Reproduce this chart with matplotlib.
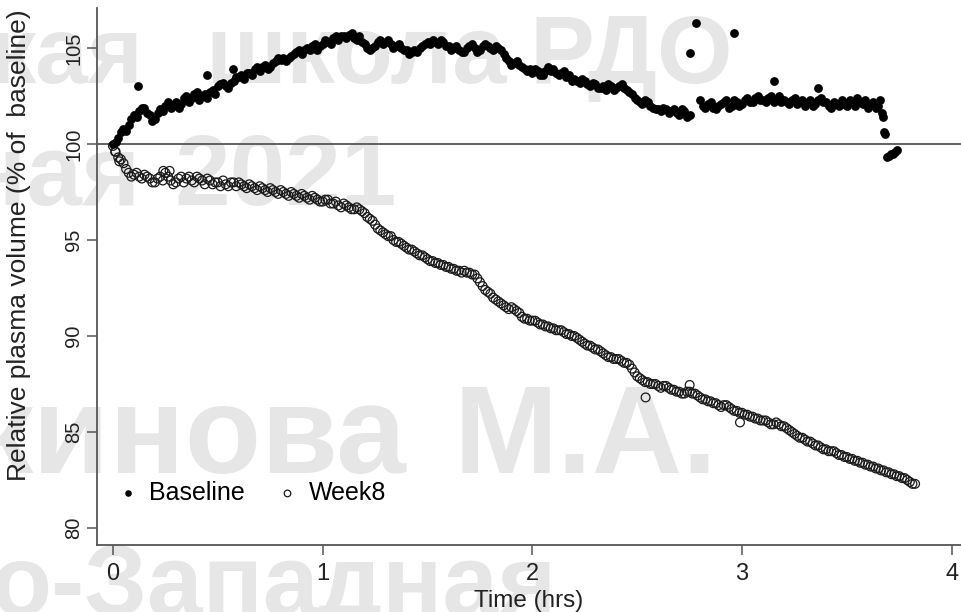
import numpy as np
import matplotlib.pyplot as plt

plt.rcParams['font.family'] = ['Liberation Sans', 'DejaVu Sans']

# readings every 1.5 min (0.025 h) plus the readings in between, % of baseline
step = 0.025

baseline = [
    100.0, 100.3, 100.8, 101.0, 101.5, 101.7, 101.9, 101.5,
    101.3, 101.8, 102.0, 101.9, 102.2, 102.1, 102.5, 102.4,
    102.7, 102.5, 102.4, 102.8, 103.0, 103.2, 102.9, 103.3,
    103.5, 103.4, 103.7, 103.9, 103.8, 104.1, 104.0, 104.3,
    104.4, 104.3, 104.6, 104.8, 104.7, 105.0, 105.1, 104.9,
    105.2, 105.3, 105.5, 105.4, 105.6, 105.7, 105.5, 105.6,
    105.2, 104.9, 105.1, 105.4, 105.3, 105.2, 105.1, 105.0,
    104.9, 104.8, 104.8, 105.1, 105.3, 105.4, 105.2, 105.3,
    105.1, 105.0, 104.9, 104.8, 105.1, 105.0, 104.9, 105.2,
    105.0, 105.1, 104.9, 104.5, 104.1, 104.3, 104.0, 103.8,
    103.7, 103.8, 103.6, 104.0, 103.9, 103.6, 103.8, 103.6,
    103.4, 103.2, 103.3, 103.0, 103.1, 102.9, 102.8, 103.0,
    102.9, 103.1, 102.8, 102.6, 102.3, 102.1, 102.2, 101.9,
    101.8, 101.9, 101.6, 101.8, 101.5, 101.7, 101.5, np.nan,
    102.3, 101.9, 102.2, 101.8, 102.1, 102.3, 102.0, 102.2,
    102.1, 102.4, 102.2, 102.5, 102.3, 102.4, 102.2, 102.5,
    102.3, 102.1, 102.4, 102.2, 102.0, 102.3, 102.1, 102.4,
    102.2, 101.9, 102.1, 102.3, 102.0, 102.2, 102.4, 102.1,
    101.9, 102.2, 102.0,
]
baseline_mid = [
    100.1, 100.6, 100.7, 101.3, 101.4, 101.9, 101.6, 101.2,
    101.6, 101.7, 102.2, 102.0, 101.9, 102.4, 102.2, 102.6,
    102.3, 102.6, 102.7, 102.6, 103.1, 103.0, 103.2, 103.5,
    103.6, 103.7, 103.6, 104.0, 104.0, 103.9, 104.2, 104.5,
    104.5, 104.5, 104.7, 104.9, 104.9, 104.9, 105.2, 105.1,
    105.4, 105.2, 105.6, 105.6, 105.5, 105.8, 105.4, 105.3,
    105.0, 105.0, 105.3, 105.2, 105.4, 105.0, 105.2, 104.9,
    104.7, 104.9, 105.0, 105.2, 105.2, 105.3, 105.4, 105.1,
    104.9, 105.1, 104.8, 105.0, 105.2, 104.8, 105.1, 105.1,
    104.9, 105.0, 104.7, 104.3, 104.2, 104.1, 103.9, 103.9,
    103.9, 103.6, 103.8, 103.8, 103.7, 103.7, 103.5, 103.3,
    103.3, 103.4, 103.1, 103.2, 102.9, 103.0, 103.1, 102.8,
    103.0, 102.9, 102.7, 102.4, 102.2, 102.3, 102.0, 101.8,
    101.7, 101.8, 101.7, 101.6, 101.8, 101.4, np.nan, np.nan,
    102.0, 102.1, 101.9, 102.0, 102.2, 101.9, 102.3, 102.0,
    102.3, 102.2, 102.4, 102.3, 102.2, 102.5, 102.3, 102.2,
    102.2, 102.3, 102.1, 102.3, 102.2, 102.0, 102.3, 102.2,
    102.0, 102.2, 102.0, 102.1, 102.3, 102.0, 102.2, 102.3,
    102.1, 101.9,
]
baseline_tail_t = [3.66, 3.665, 3.67, 3.675, 3.68, 3.69, 3.70, 3.71, 3.72, 3.73, 3.74]
baseline_tail = [102.3, 101.6, 101.4, 100.6, 100.5, 99.3, 99.4, 99.5, 99.5, 99.6, 99.7]
baseline_out_t = [0.12, 0.45, 0.57, 2.75, 2.78, 2.96, 3.15, 3.36]
baseline_out = [103.0, 103.6, 103.9, 104.75, 106.3, 105.8, 103.3, 102.9]

week8 = [
    99.9, 99.3, 99.0, 98.5, 98.4, 98.3, 98.4, 98.2,
    98.0, 98.3, 98.5, 98.1, 98.0, 98.3, 98.2, 98.1,
    98.3, 98.1, 98.2, 97.9, 98.0, 98.1, 97.8, 98.0,
    98.0, 97.8, 97.9, 97.7, 97.8, 97.6, 97.7, 97.5,
    97.6, 97.4, 97.5, 97.3, 97.4, 97.2, 97.3, 97.1,
    97.0, 97.1, 96.9, 96.8, 96.9, 96.7, 96.6, 96.6,
    96.4, 96.1, 95.8, 95.5, 95.3, 95.2, 94.9, 94.8,
    94.6, 94.5, 94.3, 94.2, 94.0, 93.9, 93.8, 93.7,
    93.6, 93.5, 93.4, 93.4, 93.3, 93.2, 92.8, 92.4,
    92.2, 91.9, 91.7, 91.5, 91.5, 91.3, 91.0, 90.9,
    90.8, 90.7, 90.6, 90.5, 90.4, 90.3, 90.2, 90.1,
    90.0, 89.8, 89.6, 89.5, 89.3, 89.2, 89.0, 88.9,
    88.8, 88.7, 88.6, 88.3, 87.9, 87.7, 87.6, 87.5,
    87.4, 87.4, 87.3, 87.2, 87.1, 87.0, 87.1, 87.0,
    86.8, 86.7, 86.6, 86.5, 86.3, 86.4, 86.2, 86.1,
    86.0, 85.9, 85.8, 85.7, 85.6, 85.5, 85.4, 85.4,
    85.3, 85.1, 84.9, 84.7, 84.6, 84.5, 84.3, 84.2,
    84.1, 84.0, 83.9, 83.8, 83.7, 83.6, 83.5, 83.4,
    83.3, 83.2, 83.1, 83.0, 82.9, 82.8, 82.7, 82.6,
    82.4, 82.3,
]
week8_mid = [
    99.6, 99.2, 98.7, 98.3, 98.5, 98.2, 98.3, 98.0,
    98.2, 98.1, 98.3, 97.9, 98.2, 98.0, 98.3, 98.0,
    98.2, 97.9, 98.1, 98.0, 97.8, 97.9, 98.0, 97.8,
    97.9, 97.7, 97.8, 97.6, 97.7, 97.5, 97.6, 97.4,
    97.5, 97.3, 97.4, 97.2, 97.3, 97.1, 97.2, 97.0,
    97.1, 96.9, 97.0, 96.7, 96.8, 96.6, 96.7, 96.5,
    96.2, 96.0, 95.6, 95.4, 95.2, 95.0, 94.9, 94.7,
    94.5, 94.4, 94.2, 94.1, 93.9, 93.8, 93.7, 93.6,
    93.5, 93.4, 93.3, 93.3, 93.2, 93.0, 92.6, 92.3,
    92.0, 91.8, 91.6, 91.4, 91.4, 91.2, 90.9, 90.8,
    90.8, 90.6, 90.5, 90.4, 90.3, 90.3, 90.1, 90.0,
    89.9, 89.7, 89.5, 89.4, 89.3, 89.1, 88.9, 88.8,
    88.8, 88.6, 88.5, 88.1, 87.8, 87.6, 87.5, 87.5,
    87.3, 87.4, 87.2, 87.1, 87.0, 87.1, 87.0, 86.9,
    86.7, 86.6, 86.5, 86.4, 86.4, 86.3, 86.1, 86.0,
    85.9, 85.8, 85.7, 85.6, 85.6, 85.4, 85.5, 85.3,
    85.2, 85.0, 84.8, 84.7, 84.5, 84.4, 84.3, 84.1,
    84.0, 84.0, 83.8, 83.7, 83.6, 83.5, 83.4, 83.3,
    83.2, 83.1, 83.0, 82.9, 82.8, 82.7, 82.6, 82.5,
    82.3,
]
week8_out_t = [0.01, 0.03, 0.24, 0.27, 2.54, 2.75, 2.99]
week8_out = [99.6, 99.1, 98.6, 98.6, 86.8, 87.45, 85.5]

t_base = np.arange(len(baseline)) * step
t_base_mid = np.arange(len(baseline_mid)) * step + step / 2
t_week8 = np.arange(len(week8)) * step
t_week8_mid = np.arange(len(week8_mid)) * step + step / 2

W, H = 961, 612
fig = plt.figure(figsize=(W / 100, H / 100), dpi=100)
ax = fig.add_axes([97 / W, 67 / H, 864 / W, 537 / H])
ax.patch.set_alpha(0)

# watermark behind the plot
wm = dict(color='#e6e6e6', fontweight='bold', zorder=-5, va='baseline')
def mark(x, y, s, size, ha='left'):
    fig.text(x / W, 1 - y / H, s, fontsize=size, ha=ha, **wm)

mark(143, 83, 'кая', 68, ha='right')
mark(205, 83, 'школа', 70)
mark(530, 83, 'РДО', 70)
mark(140, 205, 'ная', 72, ha='right')
mark(175, 205, '2021', 72)
mark(-30, 473, 'кинова', 90)
mark(454, 473, 'М.А.', 90)
mark(-10, 615, 'о-Западная', 72)

ax.axhline(100, color='#555555', lw=1.3, zorder=1)

dots = dict(s=40, color='black', lw=0, zorder=3)
ax.scatter(t_base, baseline, label='Baseline', **dots)
ax.scatter(t_base_mid, baseline_mid, **dots)
ax.scatter(baseline_tail_t, baseline_tail, **dots)
ax.scatter(baseline_out_t, baseline_out, **dots)

rings = dict(s=40, facecolors='none', edgecolors='#1a1a1a', lw=0.9, zorder=2)
ax.scatter(t_week8, week8, label='Week8', **rings)
ax.scatter(t_week8_mid, week8_mid, **rings)
ax.scatter(week8_out_t, week8_out, **rings)

ax.set_xlim(-0.0763, 4.044)
ax.set_ylim(79.115, 107.083)
ax.set_xticks([0, 1, 2, 3, 4])
ax.set_yticks([80, 85, 90, 95, 100, 105])

for side in ['top', 'right']:
    ax.spines[side].set_visible(False)
for side in ['left', 'bottom']:
    ax.spines[side].set_color('#555555')
    ax.spines[side].set_linewidth(1.3)

ax.tick_params(axis='both', direction='out', length=7, width=1.1,
               color='#555555', labelcolor='#222222')
ax.tick_params(axis='x', pad=6, labelsize=17)
ax.tick_params(axis='y', pad=3, labelsize=14.5)
for lab in ax.get_yticklabels():
    lab.set_rotation(90)
    lab.set_va('center')

ax.set_xlabel('Time (hrs)', fontsize=17.5, color='#222222')
ax.xaxis.set_label_coords(0.5, -(590 - 545) / 537)
ax.set_ylabel('Relative plasma volume (% of  baseline)', fontsize=19, color='#222222')
ax.yaxis.set_label_coords(-(97 - 31) / 864, (545 - 245) / 537)

leg = ax.legend(loc='center left', bbox_to_anchor=(118 / W, 1 - 493 / H),
                bbox_transform=fig.transFigure, ncol=2, frameon=False,
                fontsize=18, handlelength=0.8, handletextpad=0.45,
                columnspacing=1.3, borderpad=0, borderaxespad=0,
                markerscale=0.75)

fig.savefig('out.png', dpi=100)
